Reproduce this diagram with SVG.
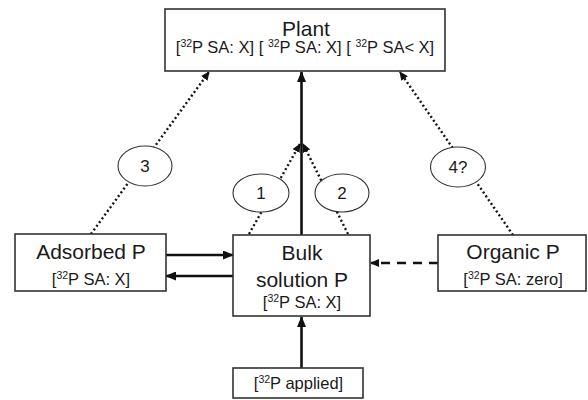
<svg xmlns="http://www.w3.org/2000/svg" width="588" height="400" viewBox="0 0 588 400">
  <style>
    .box { fill: #fff; stroke: #333; stroke-width: 1.6; }
    .oval { fill: #fff; stroke: #333; stroke-width: 1.1; }
    .t { font-family: "Liberation Sans", Arial, sans-serif; fill: #1a1a1a; text-anchor: middle; }
    .big { font-size: 21px; }
    .small { font-size: 16.5px; }
    .num { font-size: 17px; }
    .sup { font-size: 10.5px; }
    .solid { stroke: #111; stroke-width: 2.6; fill: none; }
    .dot { stroke: #111; stroke-width: 2.4; fill: none; stroke-dasharray: 2 2.6; }
    .dash { stroke: #111; stroke-width: 2.6; fill: none; stroke-dasharray: 9 7; }
  </style>
  <defs>
    <marker id="head" markerUnits="userSpaceOnUse" markerWidth="11" markerHeight="9" refX="10" refY="4.5" orient="auto">
      <path d="M0,0 L11,4.5 L0,9 z" fill="#111"/>
    </marker>
    <marker id="headSm" markerUnits="userSpaceOnUse" markerWidth="9" markerHeight="8" refX="8" refY="4" orient="auto">
      <path d="M0,0 L9,4 L0,8 z" fill="#111"/>
    </marker>
  </defs>

  <!-- connectors -->
  <g id="connectors">
    <!-- bulk solution to plant -->
    <line class="solid" x1="301.5" y1="235" x2="301.5" y2="72" marker-end="url(#head)"/>
    <!-- pathways 1 and 2 joining below the plant -->
    <line class="dot" x1="249" y1="234" x2="300" y2="144" marker-end="url(#headSm)"/>
    <line class="dot" x1="348" y1="234" x2="303" y2="144" marker-end="url(#headSm)"/>
    <!-- pathway 3: adsorbed P to plant -->
    <line class="dot" x1="91" y1="234" x2="209" y2="72" marker-end="url(#headSm)"/>
    <!-- pathway 4: organic P to plant -->
    <line class="dot" x1="513" y1="235" x2="400" y2="72" marker-end="url(#headSm)"/>
    <!-- exchange between adsorbed and bulk solution -->
    <line class="solid" x1="166" y1="255" x2="233" y2="255" marker-end="url(#head)"/>
    <line class="solid" x1="233" y1="276" x2="166" y2="276" marker-end="url(#head)"/>
    <!-- organic P to bulk solution -->
    <line class="dash" x1="438" y1="263" x2="371" y2="263" marker-end="url(#headSm)"/>
    <!-- applied label to bulk solution -->
    <line class="solid" x1="301.5" y1="368" x2="301.5" y2="317" marker-end="url(#head)"/>
  </g>

  <g id="plant">
    <rect class="box" x="165" y="9" width="280" height="62"/>
    <text class="t big" x="306" y="36">Plant</text>
    <text class="t small" x="305" y="53">[<tspan class="sup" dy="-6">32</tspan><tspan dy="6">P SA: X] [ </tspan><tspan class="sup" dy="-6">32</tspan><tspan dy="6">P SA: X] [ </tspan><tspan class="sup" dy="-6">32</tspan><tspan dy="6">P SA&lt; X]</tspan></text>
  </g>

  <g id="adsorbed">
    <rect class="box" x="15" y="234" width="151" height="57"/>
    <text class="t big" x="91" y="259">Adsorbed P</text>
    <text class="t small" x="91" y="285">[<tspan class="sup" dy="-6">32</tspan><tspan dy="6">P SA: X]</tspan></text>
  </g>

  <g id="bulk">
    <rect class="box" x="233" y="235" width="137" height="81"/>
    <text class="t big" x="302" y="260">Bulk</text>
    <text class="t big" x="302" y="287">solution P</text>
    <text class="t small" x="302" y="308">[<tspan class="sup" dy="-6">32</tspan><tspan dy="6">P SA: X]</tspan></text>
  </g>

  <g id="organic">
    <rect class="box" x="438" y="235" width="148" height="56"/>
    <text class="t big" x="513" y="259">Organic P</text>
    <text class="t small" x="513" y="285">[<tspan class="sup" dy="-6">32</tspan><tspan dy="6">P SA: zero]</tspan></text>
  </g>

  <g id="applied">
    <rect class="box" x="233" y="368" width="130" height="30"/>
    <text class="t small" x="298.5" y="389">[<tspan class="sup" dy="-6">32</tspan><tspan dy="6">P applied]</tspan></text>
  </g>

  <g id="path1">
    <ellipse class="oval" cx="261" cy="193" rx="28" ry="19"/>
    <text class="t num" x="261" y="199">1</text>
  </g>
  <g id="path2">
    <ellipse class="oval" cx="342" cy="193" rx="27" ry="19"/>
    <text class="t num" x="342" y="199">2</text>
  </g>
  <g id="path3">
    <ellipse class="oval" cx="145" cy="166" rx="27" ry="20"/>
    <text class="t num" x="145" y="172">3</text>
  </g>
  <g id="path4">
    <ellipse class="oval" cx="458" cy="167" rx="27.5" ry="20"/>
    <text class="t num" x="458" y="173">4?</text>
  </g>
</svg>
